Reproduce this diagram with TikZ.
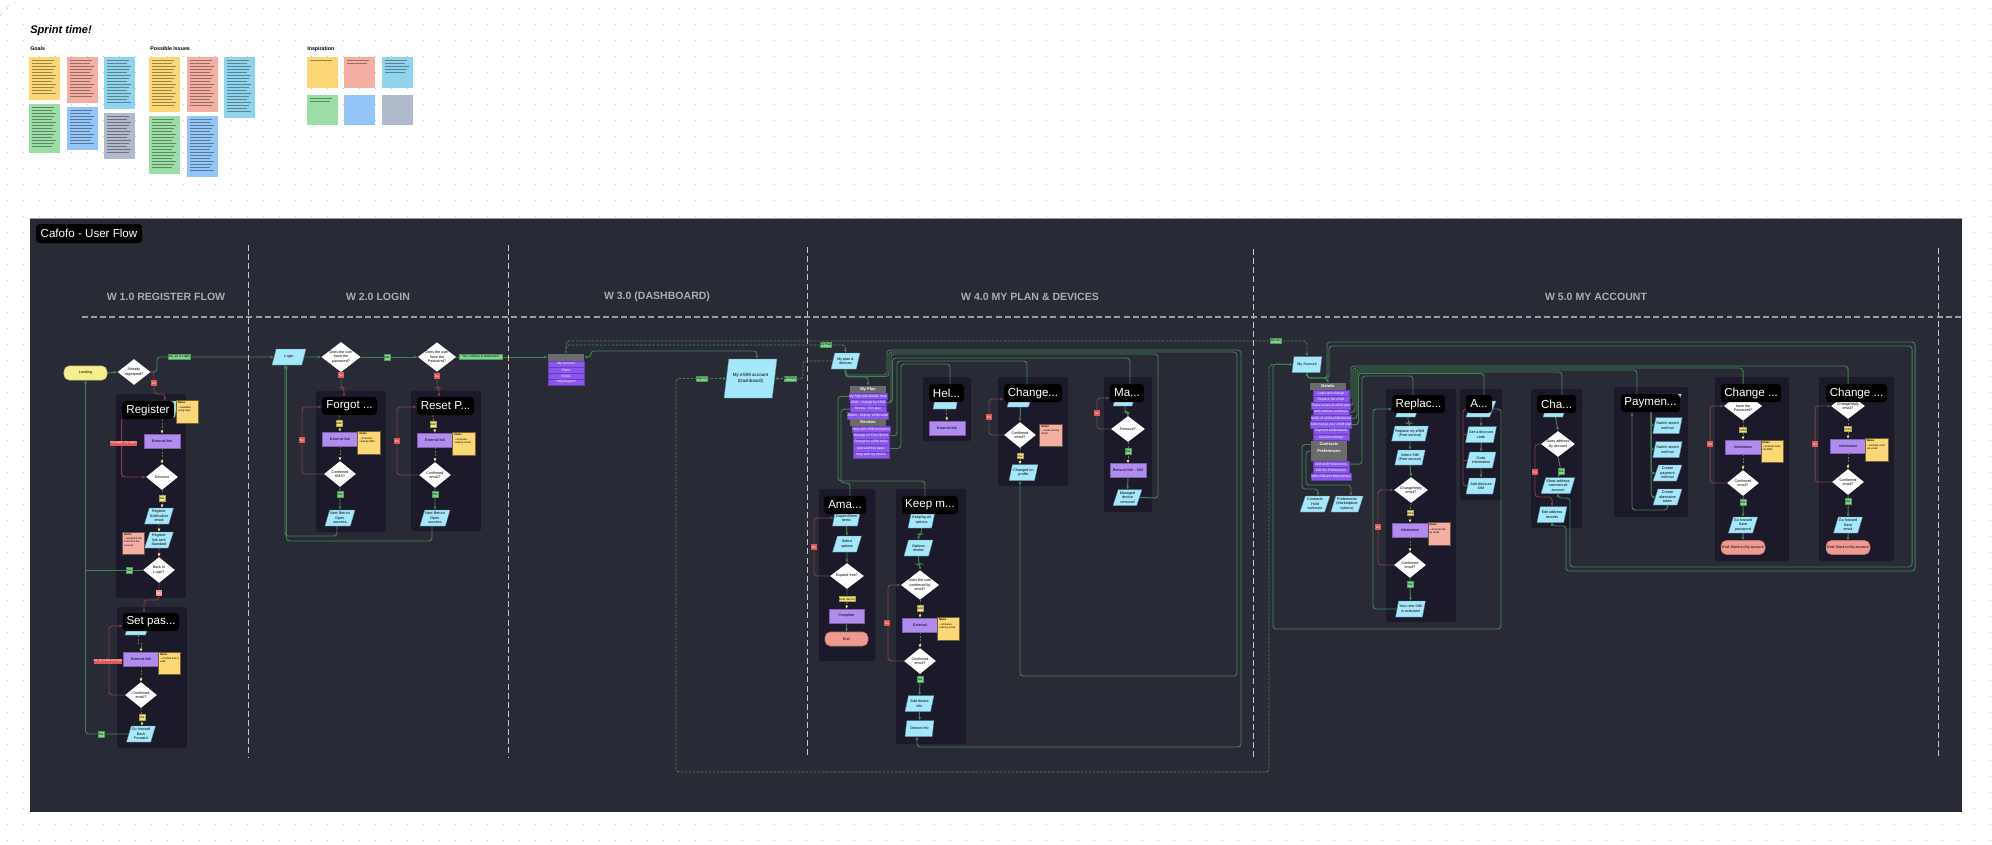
\documentclass[tikz,border=0pt]{standalone}
\usepackage{fontspec}
\setmainfont{Liberation Sans}
\usepackage{tikz}
\usetikzlibrary{arrows.meta, shapes.geometric}
\pgfdeclarelayer{back}
\pgfdeclarelayer{wires}
\pgfsetlayers{back,wires,main}
\definecolor{panelbg}{HTML}{282B35}
\definecolor{framebg}{HTML}{1C1A2A}
\definecolor{wiregreen}{HTML}{43804F}
\definecolor{wirered}{HTML}{7C3F45}
\definecolor{wiredash}{HTML}{6E6C55}
\definecolor{paracyan}{HTML}{A5E8FB}
\definecolor{extpurple}{HTML}{B18CF0}
\definecolor{rowpurple}{HTML}{8B55F0}
\definecolor{noteyellow}{HTML}{FBD875}
\definecolor{notesalmon}{HTML}{F4AFA3}
\definecolor{notecyan}{HTML}{8FD4EC}
\definecolor{notegreen}{HTML}{9ADDA5}
\definecolor{noteblue}{HTML}{93C5F8}
\definecolor{notegray}{HTML}{B0BACA}
\definecolor{endsalmon}{HTML}{EF9A90}
\definecolor{startyellow}{HTML}{F5F08F}
\definecolor{taggreen}{HTML}{7BD88A}
\definecolor{tagred}{HTML}{E05A5A}
\definecolor{tagyellow}{HTML}{F5E67A}
\newcommand{\tinyfont}{\fontsize{2.1}{2.6}\selectfont}
\newcommand{\notetxt}[2]{\parbox[t][0.4cm][t]{0.38cm}{\raggedright\textbf{#1}\\[.5pt]-- #2}}
% unreadable board notes: coloured sheet and a block of text lines
\newcommand{\boardnote}[7]{%
  \node[board, fill=#2, wh={#5-#3}{#6-#4}] (#1) at ({(#3+#5)/2},{(#4+#6)/2}) {};
  \foreach \k in {1,...,#7} \draw[boardline] ({#3+3},{#4+\k*3+0.5}) -- ({#5-4-mod(\k,3)*2},{#4+\k*3+0.5});
}

\begin{document}
\begin{tikzpicture}[
    x=0.02cm, y=-0.02cm,
    >={Latex[length=1.8pt,width=1.7pt]},
    wh/.style 2 args={minimum width=(#1)*0.02cm, minimum height=(#2)*0.02cm},
    % Blocks
    frame/.style ={fill=framebg, rounded corners=1pt},
    ftag/.style  ={fill=black, text=white, rounded corners=2pt, inner sep=0pt, minimum height=0.36cm, font=\fontsize{6.6}{7}\selectfont},
    para/.style  ={draw=black!45!paracyan, fill=paracyan, trapezium, trapezium left angle=70, trapezium right angle=110,
                   trapezium stretches, inner sep=0.3pt, line width=0.2pt, wh={29}{16}, align=center, font=\tinyfont},
    choice/.style={fill=white, diamond, aspect=1.3, inner sep=0pt, wh={33}{26}, align=center, font=\tinyfont},
    extbox/.style={draw=black!30!extpurple, fill=extpurple, line width=0.3pt, inner sep=0pt, wh={36}{14}, font=\tinyfont},
    term/.style  ={draw=black!25!endsalmon, fill=endsalmon, rounded corners=3pt, line width=0.3pt, inner sep=0pt, wh={44}{14}, font=\tinyfont},
    sticky/.style={draw=black!55!noteyellow, fill=noteyellow, line width=0.3pt, inner sep=0.6pt, wh={22.5}{22.5},
                   font=\fontsize{1.5}{1.9}\selectfont},
    menuh/.style ={fill=black!58, text=white, inner sep=0pt, wh={36}{7}, font=\fontsize{2.3}{3}\bfseries\selectfont},
    menur/.style ={draw=black!25!rowpurple, fill=rowpurple, text=white, line width=0.2pt, inner sep=0pt, wh={36}{6.4}, font=\fontsize{1.9}{2.4}\selectfont},
    board/.style ={inner sep=0pt},
    boardtitle/.style={anchor=west, inner sep=0pt, font=\fontsize{3}{4}\bfseries\selectfont},
    boardline/.style={draw=black, opacity=0.38, line width=0.35pt},
    gtag/.style  ={fill=taggreen, draw=black!30!taggreen, line width=0.2pt, inner sep=0pt, wh={6}{5.5}, font=\fontsize{1.7}{2}\selectfont},
    rtag/.style  ={fill=tagred, inner sep=0pt, wh={5.5}{5.5}, text=white, font=\fontsize{1.7}{2}\selectfont},
    ytag/.style  ={fill=tagyellow, draw=black!30!tagyellow, line width=0.2pt, inner sep=0pt, wh={5.5}{5.5}, font=\fontsize{1.7}{2}\selectfont},
    % Wires
    gwire/.style ={draw=wiregreen, line width=0.55pt, rounded corners=1.8pt, ->},
    rwire/.style ={draw=wirered, line width=0.55pt, rounded corners=1.8pt, ->},
    ywire/.style ={draw=wiredash, line width=0.55pt, dash pattern=on 1.2pt off 0.8pt, -{Latex[length=1.8pt,width=1.7pt,color=tagyellow]}},
    dwire/.style ={draw=wiregreen, line width=0.55pt, rounded corners=1.8pt, dash pattern=on 1.5pt off 0.8pt, ->},
    divider/.style={draw=black!22, line width=0.5pt, dash pattern=on 3.4pt off 1.8pt},
    griddot/.style={draw=black!22, line width=0.55pt, dash pattern=on 0.55pt off 8.55pt},
    section/.style={text=black!33, font=\fontsize{6}{7}\bfseries\selectfont}
]
\useasboundingbox (0,0) rectangle (1992,845);

% Convenient x-positions for the section dividers
\def\secA{248}
\def\secB{508}
\def\secC{807}
\def\secD{1253}
\def\secE{1938}

\begin{pgfonlayer}{back}
\fill[white] (0,0) rectangle (1992,845);
\foreach \y in {8,24,...,840} \draw[griddot] (7,\y) -- (1992,\y);
\draw[black!18, line width=0.3pt, dashed] (0,17) .. controls (3,9) and (8,4) .. (17,2);
\fill[panelbg] (30,218) rectangle (1962,812);
\draw[black!40, line width=0.4pt] (30,218) -- (1962,218);

% Frames behind the flows
\node[frame, wh={70}{204}] (regframe)    at (151,496) {};
\node[frame, wh={70}{141}] (setframe)    at (152,677.5) {};
\node[frame, wh={70}{141}] (forgotframe) at (351,461.5) {};
\node[frame, wh={70}{140}] (resetframe)  at (446,461) {};
\node[frame, wh={56.5}{172}] (amaframe)  at (847,575) {};
\node[frame, wh={70}{255}] (keepframe)   at (931,616.5) {};
\node[frame, wh={48}{64}]  (helpframe)   at (947,409) {};
\node[frame, wh={70}{109}] (chgframe)    at (1033,431.5) {};
\node[frame, wh={48}{135}] (manframe)    at (1128,444.5) {};
\node[frame, wh={70}{233}] (replframe)   at (1421,505.5) {};
\node[frame, wh={42}{111}] (addframe)    at (1481,444.5) {};
\node[frame, wh={51}{139}] (chaframe)    at (1556.5,458.5) {};
\node[frame, wh={74}{130}] (payframe)    at (1651,452) {};
\node[frame, wh={74}{184}] (pwdframe)    at (1752,469) {};
\node[frame, wh={75}{184}] (mailframe)   at (1856.5,469) {};
\end{pgfonlayer}

% --------------------------- Board -----------------------------------
\node[anchor=west, inner sep=0pt, font=\fontsize{6.3}{8}\bfseries\itshape\selectfont] (sprint) at (30,31) {Sprint time!};
\node[boardtitle] (goals)  at (30,49)  {Goals};
\node[boardtitle] (issues) at (150,49) {Possible Issues};
\node[boardtitle] (inspo)  at (307,49) {Inspiration};

\boardnote{goalA}{noteyellow}{29}{57}{60}{100}{12}
\boardnote{goalB}{notegreen}{29}{104}{60}{153}{14}
\boardnote{goalC}{notesalmon}{67}{57}{98}{103}{13}
\boardnote{goalD}{noteblue}{67}{107}{98}{150}{12}
\boardnote{goalE}{notecyan}{104}{57}{135}{109}{15}
\boardnote{goalF}{notegray}{104}{113}{135}{159}{13}
\boardnote{issueA}{noteyellow}{149}{57}{180}{112}{16}
\boardnote{issueB}{notegreen}{149}{116}{180}{174}{17}
\boardnote{issueC}{notesalmon}{187}{57}{218}{112}{16}
\boardnote{issueD}{noteblue}{187}{116}{218}{177}{18}
\boardnote{issueE}{notecyan}{224}{57}{255}{118}{18}
\boardnote{inspoA}{noteyellow}{307}{57}{338}{88}{1}
\boardnote{inspoB}{notesalmon}{344}{57}{375}{88}{2}
\boardnote{inspoC}{notecyan}{382}{57}{413}{88}{5}
\boardnote{inspoD}{notegreen}{307}{95}{338}{125}{2}
\node[board, fill=noteblue, wh={31}{30}] (inspoE) at (359.5,110) {};
\node[board, fill=notegray, wh={31}{30}] (inspoF) at (397.5,110) {};

% --------------------------- Titles ----------------------------------
\node[ftag, wh={106}{19}] (title) at (89,233.5) {Cafofo - User Flow};
\node[section] (secreg)  at (166,297)  {W 1.0 REGISTER FLOW};
\node[section] (seclog)  at (378,297)  {W 2.0 LOGIN};
\node[section] (secdash) at (657,297)  {W 3.0 (DASHBOARD)};
\node[section] (secplan) at (1030,297) {W 4.0 MY PLAN \& DEVICES};
\node[section] (secacc)  at (1596,297) {W 5.0 MY ACCOUNT};

\draw[divider] (\secA,245) -- (\secA,757);
\draw[divider] (\secB,245) -- (\secB,757);
\draw[divider] (\secC,247) -- (\secC,758);
\draw[divider] (\secD,249) -- (\secD,759);
\draw[divider] (\secE,248) -- (\secE,759);
\draw[divider, draw=black!38, line width=0.7pt] (82,317) -- (1962,317);

% --------------------------- Register --------------------------------
\node[term, fill=startyellow, draw=black!15!startyellow, wh={43}{14}] (landing) at (85.5,373) {Landing};
\node[choice] (wantreg) at (134,372) {Already\\registered?};
\node[gtag, wh={22}{5}] (regloginyes) at (179,357) {Yes, go to Login};
\node[rtag] (regno) at (154,383) {No};

\node[para, wh={30}{16}] (regform) at (163,409) {Form};
\node[ftag, wh={52}{18}] (regtag) at (148,410) {Register};
\node[sticky] (regnote) at (187.5,412) {\notetxt{Notes}{Available using login}};
\node[extbox] (regext) at (162,441) {External link};
\node[rtag, wh={21}{5}] (regretry) at (123.5,443) {Try again, Try again};
\node[choice, wh={32}{26}] (regdec) at (162,477) {Decision};
\node[ytag] (regyes) at (162,498) {Yes};
\node[para] (regmail) at (159,516) {Register\\Notification\\email};
\node[para] (regsent) at (159,540) {Register\\link sent\\Standard};
\node[sticky, fill=notesalmon, draw=black!55!notesalmon] (regalert) at (133.5,543.5) {\notetxt{Alerts}{Using the link to access the account}};
\node[choice, wh={32}{26}] (regback) at (159,570) {Back to\\Login?};
\node[gtag] (regbackyes) at (129,570) {Yes};
\node[rtag, fill=endsalmon] (regbackno) at (159,593) {No};

% --------------------------- Set password ----------------------------
\node[para, wh={26}{16}] (setmail) at (138,627) {};
\node[ftag, wh={56}{18}] (settag) at (151,622) {Set pas...};
\node[extbox] (setext) at (141,659) {External link};
\node[sticky] (setnote) at (169.5,663.5) {\notetxt{Notes}{Confirm link is valid}};
\node[rtag, wh={22}{5}] (setretry) at (108,661) {No, try a few seconds};
\node[choice, wh={32}{26}] (setconf) at (141,695) {Confirmed\\email?};
\node[ytag] (setyes) at (142,717) {Yes};
\node[para] (setdone) at (141,734) {Go forward\\Back\\Forward};
\node[gtag] (setdoneyes) at (101,734) {Yes};

% --------------------------- Login -----------------------------------
\node[para, wh={34}{16}] (login) at (289,357) {Login};
\node[choice] (haspwd) at (341,357) {Does the user\\have the\\password?};
\node[gtag] (hasyes) at (387,357) {Yes};
\node[choice] (remind) at (437,357) {Does the user\\have the\\Password?};
\node[gtag, wh={43}{5}] (dashyes) at (480.5,357) {Yes, continue to Dashboard};

\node[rtag] (forgotno) at (341,375) {No};
\node[ftag, wh={55}{18}] (forgottag) at (349.5,406) {Forgot ...};
\node[ytag] (forgotyes) at (339,423) {Add};
\node[extbox] (forgotext) at (340,439) {External link};
\node[sticky] (forgotnote) at (369,443) {\notetxt{Notes}{Activates code by SMS}};
\node[rtag] (forgotretry) at (302,440) {No};
\node[choice, wh={32}{26}] (forgotconf) at (340,474) {Confirmed\\SMS?};
\node[gtag] (forgotok) at (340,494) {Yes};
\node[para] (forgotdone) at (340,518) {Next Return\\Open\\success};

\node[rtag] (resetno) at (437,376) {No};
\node[ftag, wh={57}{18}] (resettag) at (445.5,406) {Reset P...};
\node[ytag] (resetyes) at (433,424) {Add};
\node[extbox] (resetext) at (435,440) {External link};
\node[sticky] (resetnote) at (464,444) {\notetxt{Notes}{Activates code by email}};
\node[rtag] (resetretry) at (397,441) {No};
\node[choice, wh={32}{26}] (resetconf) at (435,475) {Confirmed\\email?};
\node[gtag] (resetok) at (435,494) {Yes};
\node[para] (resetdone) at (435,518) {Next Return\\Open\\success};

% -------------------------- Dashboard --------------------------------
\node[menuh] (homehead) at (566,357) {};
\node[menur, wh={36}{6}] (homer1) at (566,364) {My Account};
\node[menur, wh={36}{6}] (homer2) at (566,370) {Plans};
\node[menur, wh={36}{6}] (homer3) at (566,376) {Profile};
\node[menur, wh={36}{6}] (homer4) at (566,382) {Help/Support};
\node[para, wh={53}{39}, font=\fontsize{2.6}{3.2}\selectfont] (bigacc) at (750.5,378.5) {My eSIM account\\(Dashboard)};
\node[gtag, wh={11}{5}] (bigno) at (702,379) {Sign up};
\node[gtag, wh={12}{5}] (bigyes) at (790,379) {My Plans};

% ------------------------- My plan & devices -------------------------
\node[gtag, wh={11}{5}] (plantag) at (826,345) {My Plan};
\node[para] (planpara) at (845.5,361) {My plan \&\\devices};
\node[menuh] (planhead) at (868,389.5) {My Plan};
\node[menur] (planr1) at (868,396.3) {My Sign plan details here};
\node[menur] (planr2) at (868,402.7) {eSIM - change by eSIM};
\node[menur] (planr3) at (868,409.1) {Renew - Sim plan};
\node[menur] (planr4) at (868,415.5) {Addon - help by eSIM seller};
\node[menuh] (devhead) at (868,422.5) {Devices};
\node[menur] (devr1) at (871,429.3) {Help with eSIM activation};
\node[menur] (devr2) at (871,435.7) {Manage on Free device};
\node[menur] (devr3) at (871,442.1) {Change by eSIM seller};
\node[menur] (devr4) at (871,448.5) {Add and free Apps};
\node[menur] (devr5) at (871,454.9) {Help with my device};

\node[para, wh={27}{16}] (amaview) at (846.5,518) {Expand/view\\items};
\node[ftag, wh={42}{18}] (amatag) at (845,505) {Ama...};
\node[para] (amaopt) at (847,544) {Select\\options};
\node[choice, wh={34}{26}] (amafree) at (847,576) {Expand free?};
\node[ytag, wh={15}{5}] (amayes) at (847,599) {Auto device};
\node[extbox, wh={35}{14}] (amaext) at (846.5,616) {Complete};
\node[term, wh={43}{14}] (amaend) at (846.5,639) {End};
\node[rtag] (amano) at (814,547) {No};

\node[para, wh={27}{16}] (keepa) at (921.5,520) {Keeping all\\options};
\node[ftag, wh={56}{18}] (keeptag) at (930,505) {Keep m...};
\node[para] (keepb) at (918.5,548) {Options\\review};
\node[choice, wh={34}{26}] (keepq) at (920,585) {Does the user\\confirmed by\\email?};
\node[ytag] (keepyes) at (920,608) {Add};
\node[extbox] (keepext) at (920,625) {External};
\node[sticky] (keepnote) at (948.5,629) {\notetxt{Notes}{Activates code by email}};
\node[rtag] (keepno) at (887,623) {No};
\node[choice, wh={32}{26}] (keepconf) at (920,661) {Confirmed\\email?};
\node[gtag] (keepok) at (920,679) {Yes};
\node[para] (keepc) at (919.5,703.5) {Add device\\info};
\node[para] (keepd) at (919.5,728.5) {Device info};

\node[para, wh={26}{16}] (helppara) at (946,401) {Open};
\node[ftag, wh={35}{18}] (helptag) at (946.5,393) {Hel...};
\node[extbox] (helpext) at (947,428) {External link};

\node[para, wh={27}{16}] (chgpara) at (1020.5,399) {};
\node[ftag, wh={58}{18}] (chgtag) at (1033,393) {Change...};
\node[choice, wh={32}{26}] (chgq) at (1020,435) {Confirmed\\email?};
\node[sticky, fill=notesalmon, draw=black!55!notesalmon] (chgnote) at (1051,435.5) {\notetxt{Notes}{Code sent by email}};
\node[rtag] (chgno) at (989,417) {No};
\node[ytag, wh={6.5}{5}] (chgyes) at (1020,456) {Yes};
\node[para] (chgdone) at (1023.5,472.5) {Changed on\\profile};

\node[para, wh={24}{16}] (manpara) at (1125,398) {};
\node[ftag, wh={34}{18}] (mantag) at (1127,393) {Ma...};
\node[choice, wh={34}{26}] (manq) at (1128,429) {Remove?};
\node[rtag] (manno) at (1097,413) {No};
\node[gtag] (manok) at (1128,451) {Yes};
\node[extbox] (manext) at (1128,470.5) {Remove link - SIM};
\node[para] (manend) at (1127.5,497.5) {Managed\\device\\removed};

% -------------------------- My account -------------------------------
\node[gtag, wh={11}{5}] (acctag) at (1276,341) {My Acc};
\node[para, wh={30}{16}] (myacc) at (1307,364.5) {My Account};
\node[menuh] (acchead) at (1328,386.5) {Details};
\node[menur] (accr1) at (1331,393.2) {Login and change};
\node[menur] (accr2) at (1331,399.5) {Replace the eSIM};
\node[menur] (accr3) at (1331,405.8) {Replace/cancel eSIM plan};
\node[menur] (accr4) at (1331,412.1) {Add address and keys};
\node[menur] (accr5) at (1331,418.4) {Notify of eSIM eSIM device};
\node[menur] (accr6) at (1331,424.7) {Add/change your eSIM plan};
\node[menur] (accr7) at (1331,431) {Payment eSIM details};
\node[menur] (accr8) at (1331,437.3) {Account settings};
\node[menuh] (conthead) at (1329,444.5) {Contracts};
\node[menuh, wh={36}{6.5}] (prefhead) at (1329,451) {Preferences};
\node[menuh] (blankhead) at (1329,457.5) {};
\node[menur] (prefr1) at (1331,464.2) {Add and Preferences};
\node[menur] (prefr2) at (1331,470.5) {Edit the Preferences};
\node[menur] (prefr3) at (1331,476.8) {Add eSIM and Marketplace};
\node[para, wh={30}{16}] (contpara) at (1315,504) {Contracts\\Hold\\contracts};
\node[para, wh={30}{16}] (prefpara) at (1347,504) {Preferences\\(Marketplace\\options)};

\node[para, wh={25}{16}] (replpara) at (1408,409) {};
\node[ftag, wh={53}{18}] (repltag) at (1418.5,404) {Replac...};
\node[para, wh={30}{15}] (repla) at (1410,433.5) {Replace my eSIM\\(Free service)};
\node[para, wh={30}{15}] (replb) at (1410,457.5) {Select SIM\\(Free service)};
\node[choice, wh={34}{26}] (replq) at (1411,490) {Change/reply\\email?};
\node[ytag, wh={6.5}{5}] (replyes) at (1410,513) {Add};
\node[extbox] (replext) at (1410,530) {Information};
\node[sticky, fill=notesalmon, draw=black!55!notesalmon] (replnote) at (1439,534) {\notetxt{Notes}{Activate link by email}};
\node[rtag] (replno) at (1378,527) {No};
\node[choice, wh={32}{26}] (replconf) at (1410,565) {Confirmed\\email?};
\node[gtag] (replok) at (1410,584) {Yes};
\node[para] (repldone) at (1410.5,609) {Your new SIM\\is activated};

\node[para, wh={30}{16}] (adda) at (1481,409) {};
\node[ftag, wh={26}{18}] (addtag) at (1479,404) {A...};
\node[para, wh={30}{16}] (addb) at (1481,434.5) {Get a discount\\code};
\node[para, wh={30}{16}] (addc) at (1481,460) {Code\\information};
\node[para, wh={30}{16}] (addd) at (1481,486) {Add discount\\SIM};

\node[para, wh={25}{16}] (chapara) at (1555.5,409) {};
\node[ftag, wh={39}{18}] (chatag) at (1556.5,404) {Cha...};
\node[choice, wh={34}{26}] (chaq) at (1558,444) {Does address\\by account};
\node[gtag] (chaok) at (1561,471) {Yes};
\node[rtag] (chano) at (1535,472) {No};
\node[para, wh={30}{16}] (chaaddr) at (1558,485.5) {Show address\\commercial\\account};
\node[para, wh={30}{16}] (chaedit) at (1552,514.5) {Edit address\\records};

\node[para, wh={29}{16}] (paya) at (1667,402) {};
\node[ftag, wh={59}{18}] (paytag) at (1650.5,403) {Paymen...};
\node[para] (payb) at (1667.5,425.5) {Switch stored\\method};
\node[para] (payc) at (1667.5,449.5) {Switch stored\\method};
\node[para] (payd) at (1667.5,473) {Create\\payment\\method};
\node[para] (paye) at (1667.5,497) {Create\\alternative\\token};

\node[choice, wh={34}{26}] (pwdq) at (1743,406) {Does the user\\have the\\Password?};
\node[ftag, wh={60}{18}] (pwdtag) at (1751,393) {Change ...};
\node[ytag, wh={7}{5}] (pwdyes) at (1743,430) {Add};
\node[extbox] (pwdext) at (1743,447) {Information};
\node[sticky] (pwdnote) at (1772,451.5) {\notetxt{Notes}{Activate code via SMS}};
\node[rtag] (pwdno) at (1710,444) {No};
\node[choice, wh={32}{26}] (pwdconf) at (1743,483) {Confirmed\\email?};
\node[gtag] (pwdok) at (1743,502) {Yes};
\node[para] (pwddone) at (1743,525) {Go forward\\Save\\password};
\node[term] (pwdend) at (1743,547.5) {End: Back to My account};

\node[choice, wh={34}{26}] (mailq) at (1848,406) {Change/reply\\email?};
\node[ftag, wh={61}{18}] (mailtag) at (1856.5,393) {Change ...};
\node[ytag, wh={7}{5}] (mailyes) at (1848,429) {Add};
\node[extbox] (mailext) at (1848,446) {Information};
\node[sticky] (mailnote) at (1876.5,450) {\notetxt{Notes}{Activate code via email}};
\node[rtag] (mailno) at (1815,444) {No};
\node[choice, wh={32}{26}] (mailconf) at (1848,482) {Confirmed\\email?};
\node[gtag] (mailok) at (1848,501) {Yes};
\node[para] (maildone) at (1848,525) {Go forward\\Save\\email};
\node[term] (mailend) at (1848,547.5) {End: Back to My account};

% ======================== Wiring =====================================
\begin{pgfonlayer}{wires}
% Register
\draw[gwire] (landing.east) -- (wantreg.west);
\draw[gwire] (wantreg.east) -| (157,357) -- (login.west);
\draw[rwire] (wantreg.east) -| (154,394) -| (165,0 |- regtag.north);
\draw[ywire] (regext.north |- regtag.south) -- (regext.north);
\draw[ywire] (regext.south) -- (regdec.north);
\draw[rwire] (regtag.south west) |- (regdec.west);
\draw[ywire] (regdec.south) -- (regyes) -- (regyes |- regmail.north);
\draw[ywire] (regmail.south) -- (regsent.north);
\draw[ywire] (regsent.south) -- (regback.north);
\draw[gwire, -] (regback.west) -- (landing.south |- regback.west);
\draw[rwire] (regback.south) |- (144,600) -- (144,0 |- settag.north);

% Set password
\draw[rwire] (setconf.west) -| (109,626) -- (settag.west |- 0,626);
\draw[ywire] (setmail.south) -- ++(0,8) -| (setext.north);
\draw[ywire] (setext.south) -- (setconf.north);
\draw[ywire] (setconf.south) -- (setyes) -- (setyes |- setdone.north);
\draw[gwire] (setdone.west) -| (landing.south);

% Login
\draw[gwire] (login.east) -- (haspwd.west);
\draw[gwire] (haspwd.east) -- (remind.west);
\draw[gwire] (remind.east) -- (homehead.west);
\draw[rwire] (haspwd.south) |- (344,388) -- (344,0 |- forgottag.north);
\draw[ywire] (forgotyes |- forgottag.south) -- (forgotext.north);
\draw[ywire] (forgotext.south) -- (forgotconf.north);
\draw[rwire] (forgotconf.west) -| (302,407) -- (forgottag.west |- 0,407);
\draw[gwire] (forgotconf.south) -- (forgotdone.north);
\draw[gwire] (337,0 |- forgotdone.south) |- (285,536) -- (285,0 |- login.south);
\draw[rwire] (remind.south) |- (439,388) -- (439,0 |- resettag.north);
\draw[ywire] (resetyes |- resettag.south) -- (resetext.north);
\draw[ywire] (resetext.south) -- (resetconf.north);
\draw[rwire] (resetconf.west) -| (397,407) -- (resettag.west |- 0,407);
\draw[gwire] (resetconf.south) -- (resetdone.north);
\draw[gwire] (432,0 |- resetdone.south) |- (286.5,541) -- (286.5,0 |- login.south);

% Dashboard
\draw[gwire, <->] (homehead.east) -| (591,351) -| (757,0 |- bigacc.north);
\draw[dwire] (homehead.north) |- (1276,341) -| (myacc.north);
\draw[dwire] (homehead.north) |- (826,345) -| (planpara.north);
\draw[dwire] (planpara.west) -| (803,379) -- (bigacc.east);
\draw[dwire] (myacc.west) -| (1269,772) -- (676,772) |- (bigacc.west);

% My plan & devices
\draw[gwire, <->] (planpara.south) |- (868,377) -- (planhead.north);
\draw[gwire] (planpara.south) |- (887,375) |- (1241,350) |- (917,747) -- (917,0 |- keepd.south);
\draw[gwire] (planpara.south) |- (889,376.5) |- (1237,352) |- (1020,676) -- (1020,0 |- chgdone.south);
\draw[gwire, -] (planr2.east) -| (891,354) -| (1158,498) -- (manend.east);
\draw[gwire, -] (planr2.east) -| (892.5,358) -| (1130,0 |- mantag.north);
\draw[gwire, -] (devr2.east) -| (897,361) -| (1027,0 |- chgtag.north);
\draw[gwire, -] (devr4.east) -| (901,364) -| (950,0 |- helptag.north);
\draw[gwire, -] (planr1.west) -| (838,481) -| (925,0 |- keeptag.north);
\draw[gwire, -] (planr3.west) -| (841,483) -| (850,0 |- amatag.north);

\draw[rwire] (amafree.west) -| (814,518) -- (amaview.west);
\draw[gwire] (amaview.south) -- (amaopt.north);
\draw[gwire] (amaopt.south) -- (amafree.north);
\draw[ywire] (amafree.south) -- (amayes) -- (amaext.north);
\draw[gwire] (amaext.south) -- (amaend.north);

\draw[gwire] (keepa.south) -- ++(0,6) -| (keepb.north);
\draw[gwire] (keepb.south) -- ++(0,8) -| (keepq.north);
\draw[rwire] (keepconf.west) -| (888,585) -- (keepq.west);
\draw[ywire] (keepq.south) -- (keepyes) -- (keepext.north);
\draw[ywire] (keepext.south) -- (keepconf.north);
\draw[gwire] (keepconf.south) -- (keepok) -- (keepc.north);
\draw[gwire] (keepc.south) -- (keepd.north);

\draw[ywire] (helppara.south) -- (helpext.north);
\draw[gwire] (chgpara.south) -- (chgq.north);
\draw[rwire] (chgq.west) -| (989,399) -- (chgtag.west |- 0,399);
\draw[ywire] (chgq.south) -- (chgyes) -- (chgyes |- chgdone.north);
\draw[gwire] (manpara.south) -- ++(0,6) -| (manq.north);
\draw[rwire] (manq.west) -| (1097,398) -- (mantag.west |- 0,398);
\draw[ywire] (manq.south) -- (manext.north);
\draw[gwire] (manext.south) -- (manend.north);

% My account
\draw[gwire, <->] (myacc.south) |- (1327,378) -- (acchead.north);
\draw[gwire] (myacc.south) |- (1327,378) |- (1915,342) |- (1566,571) |- (1552,526) -- (chaedit.south);
\draw[gwire] (myacc.south) |- (1329,378) |- (1912,346) |- (1570,567) |- (1558,498) -- (chaaddr.south);
\draw[gwire, -] (accr2.east) -| (1351,366) -| (1848,0 |- mailtag.north);
\draw[gwire, -] (accr3.east) -| (1353,368) -| (1743,0 |- pwdtag.north);
\draw[gwire, -] (accr4.east) -| (1355,370) -| (1637,0 |- paytag.north);
\draw[gwire, -] (accr5.east) -| (1357,372) -| (1562,0 |- chatag.north);
\draw[gwire, -] (accr6.east) -| (1358.5,373.5) -| (1484,0 |- addtag.north);
\draw[gwire, -] (prefr1.east) -| (1362,376) -| (1413,0 |- repltag.north);
\draw[gwire] (conthead.west) -| (1302,489) -| (1318,0 |- contpara.north);
\draw[gwire] (prefhead.west) -| (1306,485) -| (1351,0 |- prefpara.north);

\draw[gwire] (replpara.south) -- ++(0,6) -| (repla.north);
\draw[gwire] (repla.south) -- (replb.north);
\draw[gwire] (replb.south) -- (replq.north);
\draw[rwire] (replconf.west) -| (1378,490) -- (replq.west);
\draw[ywire] (replq.south) -- (replyes) -- (replext.north);
\draw[ywire] (replext.south) -- (replconf.north);
\draw[gwire] (replconf.south) -- (replok) -- (repldone.north);
\draw[gwire] (repldone.west) -| (1373,409) -- (repltag.west |- 0,409);

\draw[rwire, -] (addd.west) -| (1463,409) -- (addtag.west |- 0,409);
\draw[rwire, -] (addb.west) -- (1463,0 |- addb.west);
\draw[rwire, -] (addc.west) -- (1463,0 |- addc.west);
\draw[gwire] (adda.south) -- (addb.north);
\draw[gwire] (addb.south) -- (addc.north);
\draw[gwire] (addc.south) -- (addd.north);
\draw[gwire] (adda.east) -| (1501,629) -| (1273,364) -- (myacc.west);

\draw[gwire] (chapara.south) -- (chaq.north);
\draw[rwire] (chaq.west) -| (1535,497) -| (chaedit.north);
\draw[gwire] (chaq.south) -- (chaok) -- (chaaddr.north);

\draw[gwire] (1651,0 |- paytag.south) |- (payb.west);
\draw[gwire] (1651,0 |- paytag.south) |- (payc.west);
\draw[gwire] (1651,0 |- paytag.south) |- (payd.west);
\draw[gwire] (1651,0 |- paytag.south) |- (paye.west);
\draw[gwire] (paye.south) |- (1632,510) -- (1632,0 |- paytag.south);

\draw[rwire] (pwdconf.west) -| (1710,406) -- (pwdq.west);
\draw[ywire] (pwdq.south) -- (pwdyes) -- (pwdext.north);
\draw[ywire] (pwdext.south) -- (pwdconf.north);
\draw[gwire] (pwdconf.south) -- (pwdok) -- (pwddone.north);
\draw[gwire] (pwddone.south) -- (pwdend.north);

\draw[rwire] (mailconf.west) -| (1815,406) -- (mailq.west);
\draw[ywire] (mailq.south) -- (mailyes) -- (mailext.north);
\draw[ywire] (mailext.south) -- (mailconf.north);
\draw[gwire] (mailconf.south) -- (mailok) -- (maildone.north);
\draw[gwire] (maildone.south) -- (mailend.north);
\end{pgfonlayer}

\end{tikzpicture}
\end{document}
